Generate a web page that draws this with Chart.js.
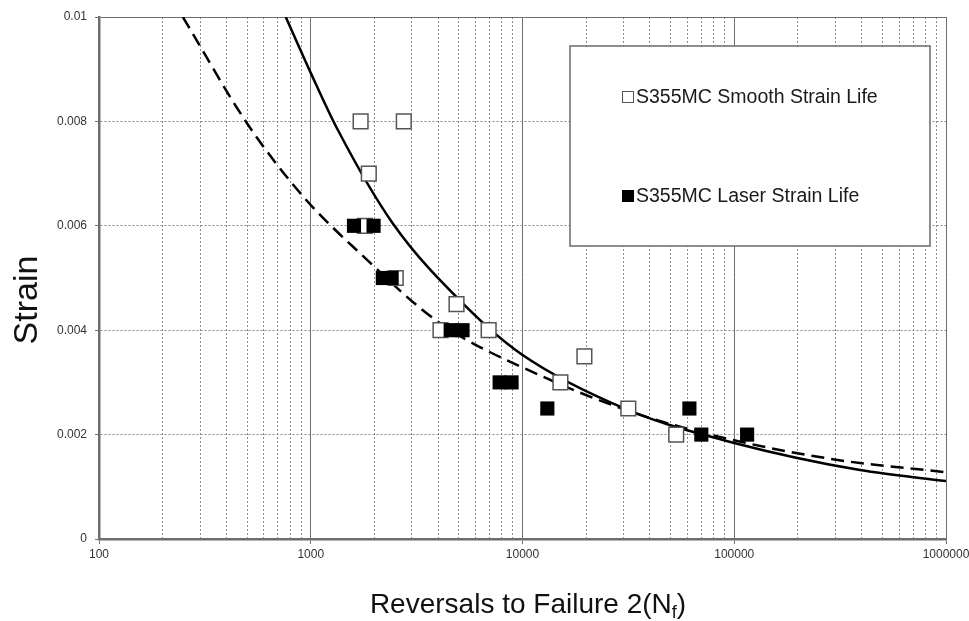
<!DOCTYPE html>
<html><head><meta charset="utf-8">
<script src="https://cdn.jsdelivr.net/npm/chart.js@4"></script>
<style>html,body{margin:0;padding:0;background:#fff}#wrap{width:969px;height:621px;position:relative}</style>
</head><body><div id="wrap"><canvas id="c" width="969" height="621"></canvas></div>
<script>
// ---- data ----
const seriesNames = ['S355MC Smooth Strain Life', 'S355MC Laser Strain Life'];
const smoothReversals = [1720, 2750, 1880, 1800, 2520, 4880, 4100, 6920, 19600, 15100, 31600, 53200];
const smoothStrain    = [0.0080, 0.0080, 0.0070, 0.0060, 0.0050, 0.0045, 0.0040, 0.0040, 0.0035, 0.0030, 0.0025, 0.0020];
const laserReversals  = [1600, 1980, 2190, 2410, 4580, 5210, 7800, 8880, 13100, 61400, 69900, 115000];
const laserStrain     = [0.0060, 0.0060, 0.0050, 0.0050, 0.0040, 0.0040, 0.0030, 0.0030, 0.0025, 0.0025, 0.0020, 0.0020];
const smoothFitReversals = [762, 1000, 1341, 2437, 5326, 9890, 31620, 100000, 392800, 1000000];
const smoothFitStrain    = [0.0100, 0.00893, 0.00784, 0.00605, 0.00448, 0.00354, 0.00247, 0.00184, 0.00132, 0.00111];
const laserFitReversals  = [249, 499, 917, 1702, 4059, 12030, 34120, 97900, 312800, 1000000];
const laserFitStrain     = [0.0100, 0.00797, 0.00657, 0.00548, 0.00414, 0.00314, 0.00241, 0.00190, 0.00151, 0.00128];
const xMajorValues = [100, 1000, 10000, 100000, 1000000];
const xTickLabels  = ['100', '1000', '10000', '100000', '1000000'];
const yTickLabels  = ['0', '0.002', '0.004', '0.006', '0.008', '0.01'];
const xTitleMain = 'Reversals to Failure 2(N';
const xTitleSub = 'f';
const xTitleEnd = ')';
const yTitle = 'Strain';

// ---- build ----
const pts = (xs, ys) => xs.map((x, i) => ({x, y: ys[i]}));
const xGridValues = [];
for (let i = 0; i < xMajorValues.length - 1; i++) {
  for (let d = 1; d <= 9; d++) xGridValues.push(xMajorValues[i] * d);
}
xGridValues.push(xMajorValues[xMajorValues.length - 1]);
const isMajor = v => xMajorValues.includes(v);
const FONT = '"Liberation Sans", Arial, sans-serif';

const legendPlugin = {
  id: 'boxLegend',
  afterDatasetsDraw(chart) {
    const c = chart.ctx;
    c.save();
    c.fillStyle = '#fff';
    c.strokeStyle = '#6a6a6a';
    c.lineWidth = 1.5;
    c.fillRect(570, 46, 360, 200);
    c.strokeRect(570, 46, 360, 200);
    const rows = [{ds: chart.data.datasets[1], y: 97}, {ds: chart.data.datasets[0], y: 196}];
    rows.forEach(r => {
      c.fillStyle = r.ds.backgroundColor;
      c.fillRect(622, r.y - 6, 12, 12);
      c.strokeStyle = r.ds.borderColor;
      c.lineWidth = 1;
      c.strokeRect(622.5, r.y - 5.5, 11, 11);
      c.fillStyle = '#1a1a1a';
      c.font = '19.5px ' + FONT;
      c.textBaseline = 'middle';
      c.textAlign = 'left';
      c.fillText(r.ds.label, 636, r.y + 1);
    });
    c.restore();
  }
};

const titlePlugin = {
  id: 'axisTitles',
  afterDraw(chart) {
    const c = chart.ctx;
    c.save();
    c.fillStyle = '#111';
    c.font = '34px ' + FONT;
    c.translate(37, 300);
    c.rotate(-Math.PI / 2);
    c.textAlign = 'center';
    c.textBaseline = 'alphabetic';
    c.fillText(yTitle, 0, 0);
    c.restore();
    c.save();
    c.fillStyle = '#111';
    c.textBaseline = 'alphabetic';
    c.textAlign = 'left';
    const big = '28px ' + FONT, small = '18px ' + FONT;
    c.font = big; const w1 = c.measureText(xTitleMain).width; const w3 = c.measureText(xTitleEnd).width;
    c.font = small; const w2 = c.measureText(xTitleSub).width;
    let x = 528 - (w1 + w2 + w3) / 2;
    const base = 613;
    c.font = big; c.fillText(xTitleMain, x, base); x += w1;
    c.font = small; c.fillText(xTitleSub, x, base + 5); x += w2;
    c.font = big; c.fillText(xTitleEnd, x, base);
    c.restore();
  }
};

new Chart(document.getElementById('c'), {
  type: 'scatter',
  data: {
    datasets: [
      {label: seriesNames[1], data: pts(laserReversals, laserStrain), pointStyle: 'rect', pointRadius: 10, pointHoverRadius: 10,
       backgroundColor: '#000', borderColor: '#000', borderWidth: 0, order: 0},
      {label: seriesNames[0], data: pts(smoothReversals, smoothStrain), pointStyle: 'rect', pointRadius: 10.4, pointHoverRadius: 10.4,
       backgroundColor: '#fff', borderColor: '#555', borderWidth: 1.5, order: 1},
      {label: 'smooth fit', type: 'line', data: pts(smoothFitReversals, smoothFitStrain), showLine: true, pointRadius: 0,
       borderColor: '#000', borderWidth: 2.5, cubicInterpolationMode: 'monotone', fill: false, order: 2},
      {label: 'laser fit', type: 'line', data: pts(laserFitReversals, laserFitStrain), showLine: true, pointRadius: 0,
       borderColor: '#000', borderWidth: 2.5, borderDash: [13, 7], cubicInterpolationMode: 'monotone', fill: false, order: 3}
    ]
  },
  options: {
    responsive: false, animation: false,
    layout: {padding: {left: 0, right: 23, top: 17, bottom: 0}},
    plugins: {legend: {display: false}, tooltip: {enabled: false}},
    scales: {
      x: {
        type: 'logarithmic', min: 100, max: 1000000, position: 'bottom',
        afterBuildTicks: s => { s.ticks = xGridValues.map(v => ({value: v, major: isMajor(v)})); },
        afterFit: s => { s.height = 82; s.paddingRight = 0; s.paddingLeft = 0; },
        ticks: {autoSkip: false, maxRotation: 0, minRotation: 0, padding: 3, color: '#333', font: {family: FONT, size: 12},
          callback: v => { const i = xMajorValues.indexOf(v); return i >= 0 ? xTickLabels[i] : ''; }},
        grid: {
          color: c => isMajor(c.tick && c.tick.value) ? '#6e6e6e' : '#8a8a8a',
          lineWidth: 1,
          tickLength: 5,
          tickColor: c => isMajor(c.tick && c.tick.value) ? '#6e6e6e' : 'rgba(0,0,0,0)'
        },
        border: {color: '#6e6e6e', width: 2.5, dash: c => isMajor(c.tick && c.tick.value) ? [] : [2, 2]}
      },
      y: {
        min: 0, max: 0.01,
        afterFit: s => { s.width = 99; s.paddingTop = 0; s.paddingBottom = 0; },
        ticks: {stepSize: 0.002, padding: 8, color: '#333', font: {family: FONT, size: 12},
          callback: (v, i) => yTickLabels[i]},
        grid: {
          color: c => (c.tick && c.tick.value > 0.0099) ? '#6e6e6e' : '#8a8a8a',
          lineWidth: 1, tickLength: 4, tickColor: '#6e6e6e'
        },
        border: {color: '#6e6e6e', width: 2.5, dash: c => (c.tick && c.tick.value > 0.0099) ? [] : [2, 2]}
      }
    }
  },
  plugins: [legendPlugin, titlePlugin]
});
</script>
</body></html>
